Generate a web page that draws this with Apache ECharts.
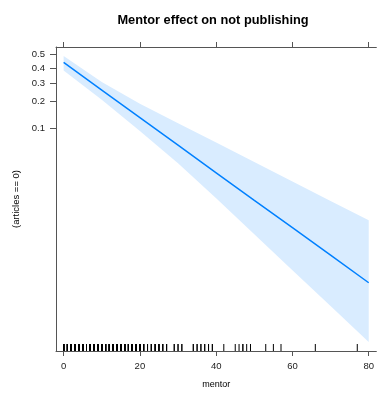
<!DOCTYPE html>
<html>
<head>
<meta charset="utf-8">
<script src="https://cdn.jsdelivr.net/npm/echarts@6/dist/echarts.min.js"></script>
<style>
html,body{margin:0;padding:0;background:#fff;}
#c{width:377px;height:394px;}
</style>
</head>
<body>
<div id="c"></div>
<script>
// mentor values at which the effect is shown
var mentorX = [0, 10, 20, 30, 40, 50, 60, 70, 80];
// fitted P(articles == 0) on the logit scale
var fitLogit = [-0.24, -1.06, -1.88, -2.70, -3.52, -4.34, -5.15, -5.97, -6.79];
// confidence band (logit scale)
var upperLogit = [-0.05, -0.82, -1.47, -2.05, -2.62, -3.20, -3.78, -4.36, -4.93];
var lowerLogit = [-0.48, -1.35, -2.28, -3.24, -4.28, -5.35, -6.42, -7.48, -8.55];
// rug: observed mentor values and (estimated) number of observations at each
var rugValues = [0,1,2,3,4,5,6,7,8,9,10,11,12,13,14,15,16,17,18,19,20,21,22,23,24,25,26,27,
  29,30,31,34,35,36,37,38,39,42,45,46,47,48,49,53,55,57,66,77];
var rugCounts = [20,20,20,20,20,20,20,20,20,20,20,20,20,20,20,20,20,20,20,20,12,5,5,4,4,4,3,3,
  2,2,2,2,2,2,2,2,2,1,1,1,2,1,1,1,1,1,1,1];
// axis ticks
var xTicks = [0, 20, 40, 60, 80];
var yTickProbs = [0.1, 0.2, 0.3, 0.4, 0.5];
var yTickLabels = ['0.1', '0.2', '0.3', '0.4', '0.5'];

var yTickLogits = yTickProbs.map(function(p){ return Math.log(p/(1-p)); });
var Y_MIN = -8.82, Y_MAX = 0.22;
var FONT = 'Liberation Sans, Arial, Helvetica, sans-serif';

var chart = echarts.init(document.getElementById('c'), null, {renderer: 'canvas'});
var axisLineStyle = {color: '#555', width: 1};
var option = {
  animation: false,
  backgroundColor: '#fff',
  title: {
    text: 'Mentor effect on not publishing',
    left: 208, top: 9, textAlign: 'center',
    textStyle: {fontFamily: FONT, fontSize: 12.8, fontWeight: 'bold', color: '#000'}
  },
  grid: {left: 56, top: 47, width: 325, height: 311, containLabel: false, show: false},
  xAxis: [{
    type: 'value', min: -2, max: 82, position: 'bottom',
    name: 'mentor', nameLocation: 'middle', nameGap: 29,
    nameTextStyle: {fontFamily: FONT, fontSize: 9, color: '#000'},
    axisLine: {show: true, onZero: false, lineStyle: axisLineStyle},
    axisTick: {show: true, inside: false, length: 5, lineStyle: axisLineStyle, customValues: xTicks},
    axisLabel: {show: true, margin: 10, fontFamily: FONT, fontSize: 9.5, color: '#222',
      customValues: xTicks, formatter: function(v){ return String(v); }},
    splitLine: {show: false}
  }, {
    type: 'value', min: -2, max: 82, position: 'top',
    axisLine: {show: true, onZero: false, lineStyle: axisLineStyle},
    axisTick: {show: true, inside: false, length: 5, lineStyle: axisLineStyle, customValues: xTicks},
    axisLabel: {show: false},
    splitLine: {show: false}
  }],
  yAxis: [{
    type: 'value', min: Y_MIN, max: Y_MAX, position: 'left',
    name: '(articles == 0)', nameLocation: 'middle', nameGap: 29, nameRotate: 90,
    nameTextStyle: {fontFamily: FONT, fontSize: 9.5, color: '#000'},
    axisLine: {show: true, onZero: false, lineStyle: axisLineStyle},
    axisTick: {show: true, inside: false, length: 6, lineStyle: axisLineStyle, customValues: yTickLogits},
    axisLabel: {show: true, margin: 11, fontFamily: FONT, fontSize: 9.5, color: '#222',
      customValues: yTickLogits,
      formatter: function(v){
        for (var i = 0; i < yTickLogits.length; i++) {
          if (Math.abs(yTickLogits[i] - v) < 1e-6) return yTickLabels[i];
        }
        return '';
      }},
    splitLine: {show: false}
  }],
  series: [{
    type: 'custom',
    coordinateSystem: 'cartesian2d',
    xAxisIndex: 0, yAxisIndex: 0,
    data: [[mentorX[0], fitLogit[0]]],
    silent: true, z: 1,
    renderItem: function(params, api){
      var pts = [];
      for (var i = 0; i < mentorX.length; i++) pts.push(api.coord([mentorX[i], upperLogit[i]]));
      for (var j = mentorX.length - 1; j >= 0; j--) pts.push(api.coord([mentorX[j], lowerLogit[j]]));
      return {type: 'polygon', shape: {points: pts}, style: {fill: '#d9ecff', stroke: null}};
    }
  }, {
    type: 'line',
    xAxisIndex: 0, yAxisIndex: 0,
    data: mentorX.map(function(x, i){ return [x, fitLogit[i]]; }),
    showSymbol: false, symbol: 'none', silent: true, z: 3,
    lineStyle: {color: '#0080ff', width: 1.5}
  }, {
    type: 'custom',
    coordinateSystem: 'cartesian2d',
    xAxisIndex: 0, yAxisIndex: 0,
    data: rugValues.map(function(v, i){ return [v, Y_MIN, rugCounts[i]]; }),
    silent: true, z: 4,
    renderItem: function(params, api){
      var p = api.coord([api.value(0), Y_MIN]);
      var n = api.value(2);
      var children = [];
      for (var k = 0; k < n; k++) {
        children.push({type: 'line', shape: {x1: p[0], y1: p[1], x2: p[0], y2: p[1] - 7},
                       style: {stroke: '#000', lineWidth: 1}});
      }
      return {type: 'group', children: children};
    }
  }]
};
chart.setOption(option);
</script>
</body>
</html>
